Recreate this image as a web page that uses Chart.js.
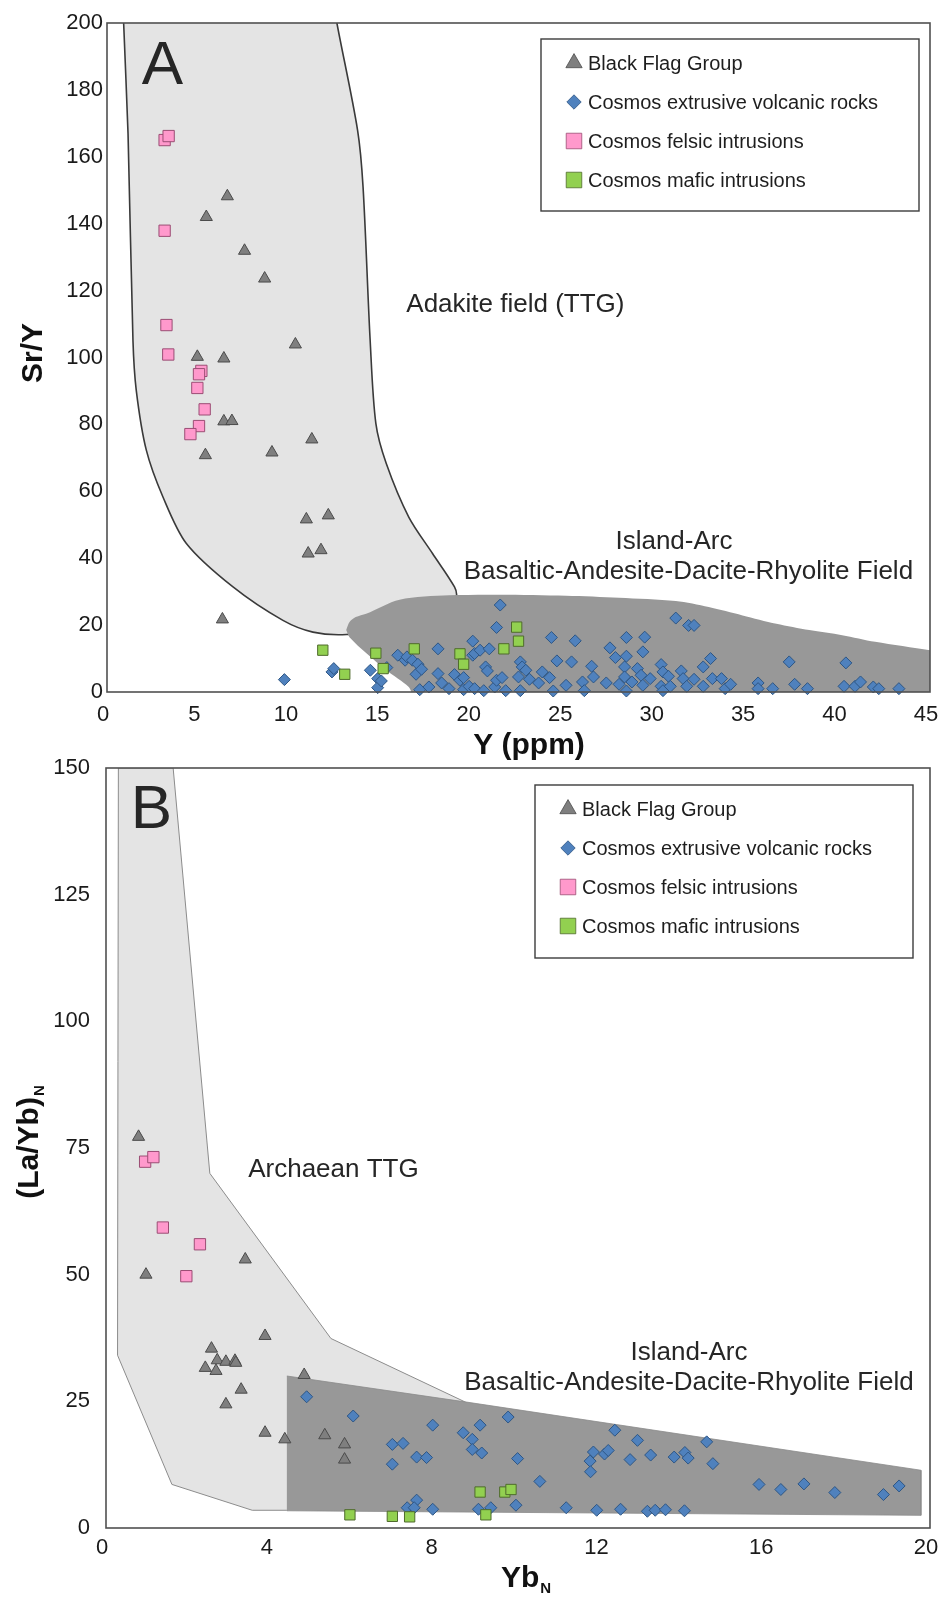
<!DOCTYPE html>
<html>
<head>
<meta charset="utf-8">
<title>Sr/Y vs Y and (La/Yb)N vs YbN</title>
<script src="https://cdn.jsdelivr.net/npm/chart.js@4.4.1/dist/chart.umd.min.js"></script>
<style>
  html, body { margin: 0; padding: 0; background: #fff; }
  #wrap { position: relative; width: 939px; height: 1598px; overflow: hidden; }
  canvas { position: absolute; left: 0; }
  #chartA { top: 0; }
  #chartB { top: 746px; }
</style>
</head>
<body>
<div id="wrap">
  <canvas id="chartA" width="939" height="764"></canvas>
  <canvas id="chartB" width="939" height="852"></canvas>
</div>
<script>
// ---- Panel A: Sr/Y against Y (ppm) ----
const aBlackFlagY  = [6.58, 5.43, 7.52, 8.62, 10.3, 4.94, 6.39, 6.39, 6.83, 5.38, 9.02, 11.2, 10.9, 12.1, 11.0, 11.7, 6.31];
const aBlackFlagSr = [148.2, 142.0, 131.9, 123.6, 103.9, 100.2, 99.7, 80.9, 81.0, 70.8, 71.6, 75.5, 51.6, 52.8, 41.4, 42.4, 21.7];

const aExtrusiveY = [9.7, 12.3, 12.4, 14.4, 14.8, 14.8, 15.0, 15.3, 15.9, 16.3, 16.4, 16.7, 16.9, 17.0, 17.2, 17.1, 17.6, 18.1, 18.1, 18.3,
  18.7, 19.0, 19.3, 19.5, 19.5, 19.8, 20.0, 20.0, 20.1, 20.4, 20.1, 20.6, 20.7, 20.8, 20.9, 21.2, 21.3, 21.6, 21.3, 21.5,
  21.8, 22.5, 22.6, 22.7, 22.9, 22.6, 23.1, 23.6, 23.8, 24.2, 24.3, 24.4, 24.6, 25.1, 25.4, 25.6, 26.0, 26.1, 26.5, 26.6,
  27.3, 27.5, 27.8, 28.4, 28.4, 28.3, 28.3, 28.0, 28.4, 28.7, 29.0, 29.2, 29.4, 29.3, 29.3, 29.7, 30.3, 30.4, 30.3, 30.4,
  30.7, 30.8, 31.1, 31.4, 31.5, 31.8, 32.1, 31.7, 32.1, 32.6, 32.6, 33.0, 33.1, 33.6, 33.8, 34.1, 35.6, 35.6, 36.4, 37.3,
  37.6, 38.3, 40.4, 40.3, 40.9, 41.2, 41.9, 42.2, 43.3];
const aExtrusiveSr = [3.7, 6.0, 7.0, 6.5, 4.0, 1.3, 3.3, 7.3, 11.0, 9.5, 10.5, 9.5, 5.3, 8.3, 6.8, 0.7, 1.5, 12.9, 5.5, 2.7,
  1.0, 5.2, 3.5, 4.3, 0.7, 1.7, 15.2, 11.0, 11.5, 12.5, 1.0, 0.4, 7.5, 6.3, 12.9, 1.5, 3.5, 4.3, 19.3, 26.0,
  0.4, 4.5, 9.0, 7.5, 6.5, 0.4, 3.8, 2.7, 6.0, 4.3, 16.3, 0.3, 9.3, 2.0, 9.0, 15.3, 3.0, 0.4, 7.7, 4.5,
  2.7, 13.2, 10.3, 16.3, 10.7, 7.5, 4.5, 2.3, 0.3, 3.0, 7.0, 5.0, 16.4, 12.0, 2.0, 4.0, 8.2, 6.0, 1.7, 0.4,
  4.7, 1.7, 22.1, 6.3, 4.0, 19.9, 19.9, 1.7, 3.8, 1.7, 7.5, 10.0, 4.0, 4.0, 1.0, 2.3, 2.7, 1.0, 1.0, 9.0,
  2.3, 1.0, 8.7, 1.7, 1.7, 3.0, 1.5, 1.0, 1.0];

const aFelsicY  = [3.15, 3.37, 3.15, 3.25, 3.35, 5.16, 5.03, 4.94, 5.34, 5.03, 4.56];
const aFelsicSr = [165.0, 166.2, 137.9, 109.7, 100.9, 96.0, 95.0, 90.9, 84.5, 79.5, 77.1];

const aMaficY  = [11.8, 13.0, 14.7, 15.1, 16.8, 19.3, 19.5, 21.7, 22.4, 22.5];
const aMaficSr = [12.5, 5.3, 11.6, 7.0, 12.9, 11.4, 8.3, 12.9, 19.4, 15.2];

// adakite (TTG) field outline; the top corners sit above the axis and get clipped
const aAdakiteY  = [0.87, 12.2, 12.57, 13.7, 14.0, 14.39, 14.7, 15.27, 16.5, 17.8, 19.0, 19.1, 18.5, 13.1, 11.26, 9.62, 6.89, 4.34, 3.06, 2.15, 1.6, 1.42, 1.15, 0.91, 0.87];
const aAdakiteSr = [212, 212, 200, 168, 151, 105, 80.3, 68.3, 52.3, 41.4, 31.4, 28.4, 20, 17.2, 17.9, 21.4, 31.4, 44.4, 58.3, 72.3, 90.2, 105, 167, 200, 212];

// island-arc BADR field outline
const aArcY  = [13.08, 13.26, 13.6, 14.17, 16.0, 18.7, 21.46, 25.1, 28.0, 31.1, 32.9, 34.75, 36.6, 38.4, 40.2, 42.0, 45, 46, 46, 16.9, 16.5, 15.27, 14.2, 13.26, 13.08];
const aArcSr = [18.5, 20.9, 22.4, 23.4, 27.6, 28.9, 29.1, 28.8, 28.2, 27.2, 25.4, 22.9, 20.4, 18.5, 17.0, 15.0, 12.5, 11.8, -2, -2, 1.5, 6.5, 11.5, 16.4, 18.5];

const aXTicks = { min: 0, max: 45, step: 5 };
const aYTicks = { min: 0, max: 200, step: 20 };

// ---- Panel B: (La/Yb)N against YbN ----
const bBlackFlagYb = [0.79, 0.97, 3.38, 3.86, 2.56, 2.70, 2.91, 3.13, 3.15, 2.41, 2.67, 3.28, 2.91, 4.81, 3.86, 4.34, 5.31, 5.79, 5.79];
const bBlackFlagLa = [77.2, 50.0, 53.0, 37.9, 35.4, 33.1, 32.8, 33.0, 32.6, 31.6, 31.0, 27.3, 24.4, 30.2, 18.8, 17.5, 18.3, 16.5, 13.5];

const bExtrusiveYb = [4.87, 6.0, 7.93, 6.95, 7.21, 6.95, 7.54, 7.78, 7.54, 7.31, 7.48, 7.93, 8.67, 9.08, 8.89, 8.89, 9.12, 9.76, 9.99, 10.53,
  9.04, 9.34, 9.95, 11.17, 11.83, 11.75, 11.76, 12.1, 12.19, 12.35, 11.91, 12.49, 12.72, 12.9, 13.22, 13.14, 13.33, 13.58, 13.79, 14.05,
  14.13, 14.04, 14.58, 14.73, 15.85, 16.38, 16.94, 17.69, 18.87, 19.25];
const bExtrusiveLa = [25.9, 22.1, 20.3, 16.5, 16.7, 12.6, 14.0, 13.9, 5.5, 4.0, 4.0, 3.7, 18.8, 20.3, 17.5, 15.5, 14.8, 21.9, 13.7, 9.2,
  3.7, 4.0, 4.5, 4.0, 15.0, 13.2, 11.1, 14.6, 15.3, 19.3, 3.5, 3.7, 13.5, 17.3, 14.4, 3.3, 3.5, 3.6, 14.0, 14.9,
  13.8, 3.4, 17.0, 12.7, 8.6, 7.6, 8.7, 7.0, 6.6, 8.3];

const bFelsicYb = [0.95, 1.15, 1.38, 2.28, 1.95];
const bFelsicLa = [72.3, 73.2, 59.3, 56.0, 49.7];

const bMaficYb = [5.92, 6.95, 7.37, 9.08, 9.68, 9.83, 9.22];
const bMaficLa = [2.6, 2.3, 2.2, 7.1, 7.1, 7.6, 2.6];

// Archaean TTG field outline
const bTtgYb = [0.30, 1.63, 2.52, 5.46, 8.71, 8.71, 4.39, 3.55, 1.60, 0.28, 0.30];
const bTtgLa = [150, 150, 70.0, 37.4, 24.9, 20, 3.5, 3.5, 8.6, 34.1, 150];

// island-arc BADR field outline
const bArcYb = [4.39, 8.71, 19.78, 19.78, 4.39];
const bArcLa = [30.0, 24.9, 11.4, 2.5, 3.4];

const bXTicks = { min: 0, max: 20, step: 4 };
const bYTicks = { min: 0, max: 150, step: 25 };

const seriesNames = ['Black Flag Group', 'Cosmos extrusive volcanic rocks', 'Cosmos felsic intrusions', 'Cosmos mafic intrusions'];

const FONT = '"Liberation Sans", Arial, Helvetica, sans-serif';
const pts = (xs, ys) => xs.map((x, i) => ({ x, y: ys[i] }));

const markers = {
  black: { pointStyle: 'triangle', radius: 7, legendRadius: 9.4, bg: '#7f7f7f', border: '#4b4b4b' },
  blue:  { pointStyle: 'rectRot', radius: 6, legendRadius: 7.2, bg: '#4f81bd', border: '#2e5684' },
  pink:  { pointStyle: 'rect', radius: 8, legendRadius: 11, bg: '#ff99cc', border: '#9b4d74' },
  green: { pointStyle: 'rect', radius: 7.3, legendRadius: 11, bg: '#92d050', border: '#4f6b2c' }
};

function pointSet(label, data, m, order) {
  return {
    label, data, order, clip: false,
    pointStyle: m.pointStyle, pointRadius: m.radius, pointHoverRadius: m.radius,
    pointBackgroundColor: m.bg, pointBorderColor: m.border, pointBorderWidth: 1,
    showLine: false, legendMarker: m
  };
}

function fieldSet(data, fill, stroke, width, tension, order) {
  return {
    type: 'line', data, order, fill: 'shape',
    backgroundColor: fill, borderColor: stroke, borderWidth: width,
    tension, pointRadius: 0, pointHoverRadius: 0, clip: 0
  };
}

// frame, field names, legend box and axis titles
const panelDecor = {
  id: 'panelDecor',
  afterDraw(chart, args, opts) {
    const { ctx, chartArea: a } = chart;
    const xs = chart.scales.x, ys = chart.scales.y;
    ctx.save();

    ctx.strokeStyle = '#505050';
    ctx.lineWidth = 1.6;
    ctx.strokeRect(a.left, a.top, a.right - a.left, a.bottom - a.top);

    ctx.fillStyle = '#262626';
    ctx.textBaseline = 'alphabetic';
    opts.notes.forEach((n) => {
      ctx.font = n.font;
      ctx.textAlign = n.align || 'center';
      ctx.fillText(n.text, xs.getPixelForValue(n.x), ys.getPixelForValue(n.y));
    });

    const box = opts.legend;
    ctx.fillStyle = '#fff';
    ctx.fillRect(box.left, box.top, box.width, box.height);
    ctx.strokeStyle = '#3c3c3c';
    ctx.lineWidth = 1.4;
    ctx.strokeRect(box.left, box.top, box.width, box.height);
    const rows = chart.data.datasets.filter((d) => d.legendMarker);
    rows.sort((p, q) => seriesNames.indexOf(p.label) - seriesNames.indexOf(q.label));
    rows.forEach((d, i) => {
      const y = box.top + 24 + i * 39;
      const m = d.legendMarker;
      ctx.fillStyle = m.bg;
      ctx.strokeStyle = m.border;
      ctx.lineWidth = 0.8;
      Chart.helpers.drawPoint(ctx, { pointStyle: m.pointStyle, radius: m.legendRadius, rotation: 0, borderWidth: 0.8 }, box.left + 33, y);
      ctx.fillStyle = '#1e1e1e';
      ctx.font = '20px ' + FONT;
      ctx.textAlign = 'left';
      ctx.textBaseline = 'middle';
      ctx.fillText(d.label, box.left + 47, y + 1);
    });

    // axis titles, with optional subscript
    ctx.fillStyle = '#111';
    ctx.textBaseline = 'alphabetic';
    const title = (t) => {
      ctx.save();
      ctx.translate(t.x, t.y);
      if (t.vertical) ctx.rotate(-Math.PI / 2);
      ctx.font = 'bold 30px ' + FONT;
      const w1 = ctx.measureText(t.text).width;
      ctx.font = 'bold 15px ' + FONT;
      const w2 = t.sub ? ctx.measureText(t.sub).width + 1 : 0;
      const x0 = -(w1 + w2) / 2;
      ctx.textAlign = 'left';
      ctx.font = 'bold 30px ' + FONT;
      ctx.fillText(t.text, x0, 0);
      if (t.sub) {
        ctx.font = 'bold 15px ' + FONT;
        ctx.fillText(t.sub, x0 + w1 + 1, 6);
      }
      ctx.restore();
    };
    opts.titles.forEach(title);
    ctx.restore();
  }
};

function axes(xr, yr, yWidth, xHeight, yPad, xPad) {
  const tickFont = { family: FONT, size: 22 };
  return {
    x: {
      type: 'linear', min: xr.min, max: xr.max,
      ticks: { stepSize: xr.step, font: tickFont, color: '#1a1a1a', padding: xPad, maxRotation: 0, labelOffset: -4 },
      grid: { display: false, drawTicks: false }, border: { display: false },
      afterFit: (s) => { s.height = xHeight; s.paddingLeft = 0; s.paddingRight = 0; }
    },
    y: {
      type: 'linear', min: yr.min, max: yr.max,
      ticks: { stepSize: yr.step, font: tickFont, color: '#1a1a1a', padding: yPad },
      grid: { display: false, drawTicks: false }, border: { display: false },
      afterFit: (s) => { s.width = yWidth; s.paddingTop = 0; s.paddingBottom = 0; }
    }
  };
}

const common = {
  responsive: false,
  animation: false,
  events: [],
  plugins: { legend: { display: false }, tooltip: { enabled: false } }
};

new Chart(document.getElementById('chartA'), {
  type: 'scatter',
  data: {
    datasets: [
      pointSet(seriesNames[3], pts(aMaficY, aMaficSr), markers.green, 1),
      pointSet(seriesNames[2], pts(aFelsicY, aFelsicSr), markers.pink, 2),
      pointSet(seriesNames[0], pts(aBlackFlagY, aBlackFlagSr), markers.black, 3),
      pointSet(seriesNames[1], pts(aExtrusiveY, aExtrusiveSr), markers.blue, 4),
      fieldSet(pts(aArcY, aArcSr), '#989898', 'rgba(0,0,0,0)', 0, 0.3, 9),
      fieldSet(pts(aAdakiteY, aAdakiteSr), '#e4e4e4', '#3a3a3a', 1.6, 0.3, 10)
    ]
  },
  options: {
    ...common,
    layout: { padding: { left: 0, top: 23, right: 8, bottom: 0 } },
    scales: axes(aXTicks, aYTicks, 107, 72, 4, 10),
    plugins: {
      ...common.plugins,
      panelDecor: {
        notes: [
          { text: 'A', x: 1.9, y: 181.9, font: '62px ' + FONT, align: 'left' },
          { text: 'Adakite field (TTG)', x: 22.33, y: 113.5, font: '26px ' + FONT },
          { text: 'Island-Arc', x: 31.0, y: 42.7, font: '26px ' + FONT },
          { text: 'Basaltic-Andesite-Dacite-Rhyolite Field', x: 31.79, y: 33.9, font: '26px ' + FONT }
        ],
        legend: { left: 541, top: 39, width: 378, height: 172 },
        titles: [
          { text: 'Sr/Y', x: 42, y: 353, vertical: true },
          { text: 'Y (ppm)', x: 529, y: 754 }
        ]
      }
    }
  },
  plugins: [panelDecor]
});

new Chart(document.getElementById('chartB'), {
  type: 'scatter',
  data: {
    datasets: [
      pointSet(seriesNames[3], pts(bMaficYb, bMaficLa), markers.green, 1),
      pointSet(seriesNames[2], pts(bFelsicYb, bFelsicLa), markers.pink, 2),
      pointSet(seriesNames[0], pts(bBlackFlagYb, bBlackFlagLa), markers.black, 3),
      pointSet(seriesNames[1], pts(bExtrusiveYb, bExtrusiveLa), markers.blue, 4),
      fieldSet(pts(bArcYb, bArcLa), '#989898', '#8a8a8a', 0.8, 0, 9),
      fieldSet(pts(bTtgYb, bTtgLa), '#e4e4e4', '#8c8c8c', 1, 0, 10)
    ]
  },
  options: {
    ...common,
    layout: { padding: { left: 0, top: 22, right: 9, bottom: 0 } },
    scales: axes(bXTicks, bYTicks, 106, 70, 16, 7),
    plugins: {
      ...common.plugins,
      panelDecor: {
        notes: [
          { text: 'B', x: 0.6, y: 138.1, font: '62px ' + FONT, align: 'left' },
          { text: 'Archaean TTG', x: 5.52, y: 69.3, font: '26px ' + FONT },
          { text: 'Island-Arc', x: 14.15, y: 33.1, font: '26px ' + FONT },
          { text: 'Basaltic-Andesite-Dacite-Rhyolite Field', x: 14.15, y: 27.2, font: '26px ' + FONT }
        ],
        legend: { left: 535, top: 39, width: 378, height: 173 },
        titles: [
          { text: '(La/Yb)', sub: 'N', x: 38, y: 396, vertical: true },
          { text: 'Yb', sub: 'N', x: 526, y: 841 }
        ]
      }
    }
  },
  plugins: [panelDecor]
});
</script>
</body>
</html>
